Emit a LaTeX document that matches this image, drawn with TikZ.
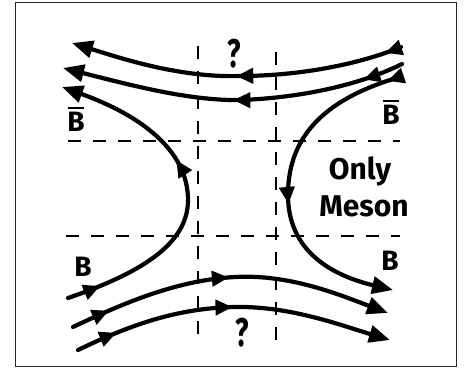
\documentclass[tikz,border=0pt]{standalone}
\usepackage{fontspec}
\setmainfont{Fira Sans}
\usetikzlibrary{arrows.meta,decorations.markings}
\begin{document}
\begin{tikzpicture}[x=1pt,y=-1pt,
  flow/.style={line width=4.2pt, line cap=round, -{Triangle[length=21pt,width=17pt]}},
  arrowsat/.style n args={2}{decoration={markings,
      mark=at position #1 with {\arrow{Triangle[length=17pt,width=15pt]}},
      mark=at position #2 with {\arrow{Triangle[length=17pt,width=15pt]}}},
    postaction={decorate}},
  guide/.style={line width=1.7pt, dash pattern=on 13pt off 12pt},
  lbl/.style={font=\fontsize{28}{30}\selectfont\bfseries, inner sep=0pt},
  big/.style={font=\fontsize{30}{32}\selectfont\bfseries, inner sep=0pt},
  qm/.style={font=\fontsize{40}{42}\selectfont\bfseries, inner sep=0pt},
  bar/.style={line width=2.6pt}
]
\useasboundingbox (0,0) rectangle (464,377);
\draw[line width=1pt, black!85] (15,3) rectangle (456,367);

% dashed guide lines
\draw[guide] (198,46) -- (198,344);
\draw[guide] (276,52) -- (276,344);
\draw[guide] (68,141) -- (400,141);
\draw[guide] (66,236) -- (400,236);

% named end points
\coordinate (t1s) at (401,47);  \coordinate (t1e) at (72,43);
\coordinate (t2s) at (402,64);  \coordinate (t2e) at (63,68);
\coordinate (lhs) at (68,298);  \coordinate (lhe) at (62,87);
\coordinate (rhs) at (400,77);  \coordinate (rhe) at (393,290);
\coordinate (b1s) at (73,327);  \coordinate (b1e) at (388,313);
\coordinate (b2s) at (78,350);  \coordinate (b2e) at (390,340);

% top curves (right to left)
\draw[flow, arrowsat={0.05}{0.5}] (t1s) .. controls (360,64) and (300,76) .. (240,76)
  .. controls (180,78) and (120,58) .. (t1e);
\draw[flow, arrowsat={0.12}{0.5}] (t2s) .. controls (360,85) and (300,98) .. (240,100)
  .. controls (190,101) and (130,85) .. (t2e);

% left hook (bottom to top)
\draw[flow, arrowsat={0.1}{0.6}] (lhs) .. controls (150,270) and (188,240) .. (188,200)
  .. controls (188,150) and (140,115) .. (lhe);

% right hook (top to bottom)
\draw[flow, arrowsat={0.04}{0.56}] (rhs) .. controls (320,100) and (288,140) .. (288,195)
  .. controls (288,250) and (330,275) .. (rhe);

% bottom curves (left to right)
\draw[flow, arrowsat={0.12}{0.5}] (b1s) .. controls (130,300) and (180,280) .. (235,277)
  .. controls (290,274) and (340,295) .. (b1e);
\draw[flow, arrowsat={0.13}{0.5}] (b2s) .. controls (140,320) and (185,308) .. (235,307)
  .. controls (290,306) and (340,325) .. (b2e);

% labels
\node[lbl] (bbl) at (76,122) {B};
\draw[bar] ([xshift=1pt,yshift=4pt]bbl.north west) -- ([xshift=-1pt,yshift=4pt]bbl.north east);
\node[lbl] (bbr) at (391,115) {B};
\draw[bar] ([xshift=1pt,yshift=4pt]bbr.north west) -- ([xshift=-1pt,yshift=4pt]bbr.north east);
\node[lbl] (bl) at (83,267) {B};
\node[lbl] (br) at (390,261) {B};
\node[qm] (q1) at (234,54) {\scalebox{0.7}[1]{?}};
\node[qm] (q2) at (242,333) {\scalebox{0.7}[1]{?}};
\node[big] (only) at (360,171) {Only};
\node[big] (meson) at (364,206) {Meson};
\end{tikzpicture}
\end{document}
